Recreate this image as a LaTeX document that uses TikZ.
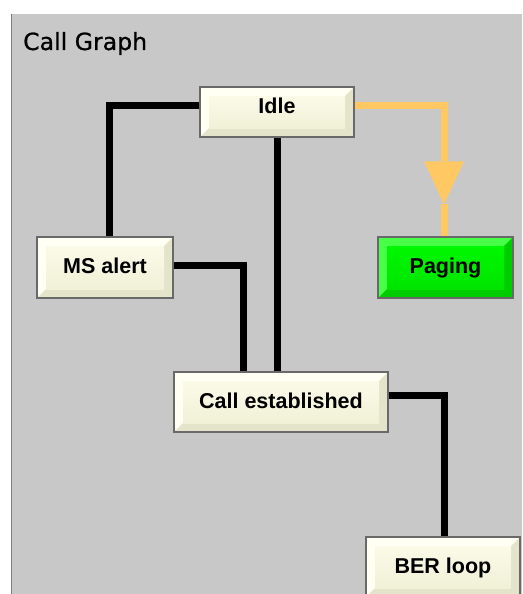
\documentclass[tikz,border=0pt]{standalone}
\usepackage{fontspec}
\usepackage{tikz}
\usetikzlibrary{arrows.meta,calc}
\newfontfamily\btnfont{Liberation Sans}
\newfontfamily\ttlfont{DejaVu Sans}[FakeBold=0.8]
\definecolor{panel}{RGB}{200,200,200}
\definecolor{panedge}{RGB}{125,125,125}
\definecolor{frame}{RGB}{105,105,105}
\definecolor{creamlt}{RGB}{255,255,243}
\definecolor{creamtop}{RGB}{250,250,232}
\definecolor{creambot}{RGB}{241,241,216}
\definecolor{creamdk}{RGB}{228,228,202}
\definecolor{greenlt}{RGB}{70,255,70}
\definecolor{greentop}{RGB}{0,248,0}
\definecolor{greenbot}{RGB}{0,228,0}
\definecolor{greendk}{RGB}{0,205,0}
\definecolor{pageline}{RGB}{255,200,98}
\tikzset{
  btn/.style n args={4}{draw=frame,line width=1.5pt,fill=#1,
              minimum height=60pt,inner sep=0pt,
              text height=15.5pt,text depth=3pt,
              font=\btnfont\bfseries\fontsize{21.5pt}{24pt}\selectfont,
              path picture={
                \fill[#4] (path picture bounding box.south west)
                  -- (path picture bounding box.south east)
                  -- (path picture bounding box.north east)
                  -- ([shift={(-9pt,-9pt)}]path picture bounding box.north east)
                  -- ([shift={(-9pt,9pt)}]path picture bounding box.south east)
                  -- ([shift={(9pt,9pt)}]path picture bounding box.south west)
                  -- cycle;
                \shade[top color=#2,bottom color=#3]
                  ([shift={(9pt,9pt)}]path picture bounding box.south west)
                  rectangle
                  ([shift={(-9pt,-9pt)}]path picture bounding box.north east);
              }},
  state/.style={btn={creamlt}{creamtop}{creambot}{creamdk}},
  stateon/.style={btn={greenlt}{greentop}{greenbot}{greendk}},
  wire/.style={line width=7pt,black},
  pagewire/.style={line width=7pt,pageline},
}

\begin{document}
\begin{tikzpicture}[x=1pt, y=-1pt]
  \useasboundingbox (0,0) rectangle (522,594);
  \clip (0,0) rectangle (522,594);
  \fill[white] (0,0) rectangle (522,594);
  \fill[panel] (11,14) rectangle (522,594);
  \draw[panedge, line width=1.5pt] (11.5,14) -- (11.5,594);
  \node[anchor=base west, inner sep=0pt, text=black,
        font=\ttlfont\fontsize{23.6pt}{26pt}\selectfont]
       (title) at (23,50) {Call Graph};
  % the states, each at its own place on the panel
  \node[state, minimum width=154pt, minimum height=50pt, text depth=12pt]
       (idle) at (277,112) {Idle};
  \node[state, minimum width=136pt, minimum height=61pt]
       (msalert) at (105,267.5) {MS alert};
  \node[stateon, minimum width=135pt, minimum height=61pt]
       (paging) at (445.5,267.5) {Paging};
  \node[state, minimum width=214pt] (callest) at (281,402) {Call established};
  \node[state, minimum width=154pt] (berloop) at (443,567) {BER loop};
  % transitions
  \draw[wire] ([yshift=7pt]idle.west) -| ([xshift=4pt]msalert.north);
  \draw[wire] (idle.south) -- (idle.south |- callest.north);
  \draw[wire] ([yshift=2.5pt]msalert.east) -| ([xshift=-38pt]callest.north);
  \draw[wire] ([yshift=7pt]callest.east) -| ([xshift=1pt]berloop.north);
  % the one active transition, arrow halfway down
  \coordinate (pgtip) at ([xshift=-1.5pt,yshift=32pt]paging.north);
  \draw[pagewire, -{Triangle[length=43pt,width=40pt,line width=0pt]}]
       ([yshift=7pt]idle.east) -| (pgtip);
  \draw[pagewire] (pgtip) -- ([xshift=-1.5pt]paging.north);
\end{tikzpicture}
\end{document}
